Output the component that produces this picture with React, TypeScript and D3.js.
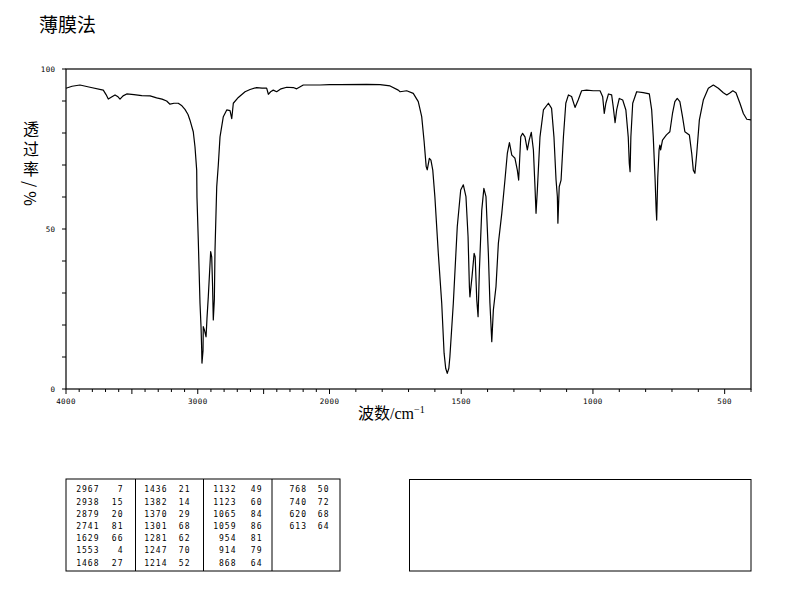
import React from "react";
import * as d3 from "d3";

// ---- Spectrum data (wavenumber cm^-1, transmittance %) ----
const wavenumbers = [
  4000, 3954, 3894, 3818, 3717, 3696, 3679, 3651, 3628, 3605, 3590, 3567, 3539, 3484, 3425, 3362, 3312, 3271, 3236, 3211,
  3180, 3148, 3120, 3097, 3074, 3059, 3034, 3021, 3008, 3006, 2996, 2983, 2975, 2970, 2968, 2960, 2958, 2949, 2937, 2930,
  2920, 2902, 2894, 2888, 2882, 2874, 2869, 2856, 2844, 2831, 2806, 2780, 2755, 2742, 2730, 2692, 2641, 2603, 2553, 2512,
  2477, 2464, 2444, 2427, 2401, 2368, 2325, 2275, 2249, 2199, 2072, 2000, 1960, 1859, 1808, 1770, 1739, 1732, 1707, 1682,
  1663, 1650, 1641, 1633, 1629, 1621, 1615, 1608, 1600, 1587, 1574, 1565, 1559, 1553, 1547, 1543, 1530, 1515, 1502, 1492,
  1482, 1474, 1469, 1467, 1459, 1451, 1447, 1441, 1436, 1431, 1422, 1414, 1406, 1397, 1391, 1384, 1378, 1368, 1359, 1346,
  1334, 1325, 1317, 1308, 1302, 1296, 1287, 1282, 1274, 1267, 1258, 1249, 1242, 1234, 1226, 1220, 1216, 1211, 1201, 1188,
  1169, 1157, 1148, 1140, 1135, 1133, 1128, 1121, 1112, 1103, 1093, 1081, 1068, 1056, 1043, 1024, 999, 973, 963, 957,
  951, 941, 929, 923, 916, 910, 900, 887, 875, 866, 862, 859, 856, 849, 834, 809, 786, 777, 771, 764,
  760, 758, 754, 749, 746, 743, 736, 721, 708, 698, 689, 680, 670, 660, 651, 634, 625, 619, 613, 606,
  596, 581, 562, 543, 524, 505, 492, 479, 469, 457, 442, 429, 416, 400,
];
const transmittance = [
  94.0, 94.6, 95.0, 94.3, 93.4, 92.0, 90.6, 91.3, 91.9, 91.3, 90.6, 91.6, 92.2, 92.0, 91.7, 91.6, 91.0, 90.6, 90.0, 89.0,
  89.3, 89.3, 88.5, 87.4, 85.8, 84.0, 80.4, 75.7, 68.4, 60.0, 46.6, 26.9, 19.4, 12.2, 8.1, 12.0, 19.5, 18.4, 16.3, 22.0,
  28.8, 42.9, 41.3, 33.0, 21.6, 28.0, 43.4, 63.2, 70.0, 78.8, 85.1, 87.2, 87.0, 84.5, 89.3, 91.1, 92.9, 93.6, 94.2, 94.0,
  94.0, 92.1, 93.0, 93.4, 92.9, 93.8, 94.3, 94.2, 93.8, 95.0, 95.0, 95.1, 95.1, 95.2, 95.1, 94.7, 93.4, 92.9, 93.2, 92.4,
  89.8, 85.1, 77.5, 69.5, 68.5, 72.1, 71.5, 68.4, 60.1, 42.4, 26.8, 11.2, 6.5, 4.9, 6.5, 10.1, 26.8, 50.7, 62.2, 63.8,
  60.1, 47.6, 32.0, 28.8, 35.1, 42.4, 41.3, 27.8, 22.6, 37.2, 55.9, 62.7, 60.1, 42.4, 26.8, 14.8, 24.7, 32.0, 45.5, 54.9,
  65.3, 73.6, 77.0, 73.1, 72.6, 72.1, 68.4, 65.3, 78.8, 79.9, 78.8, 74.7, 77.8, 80.2, 74.7, 63.2, 54.9, 62.2, 78.8, 87.2,
  89.3, 87.7, 78.8, 65.3, 60.1, 51.8, 63.2, 65.3, 78.8, 89.3, 91.9, 91.4, 88.0, 90.3, 93.2, 93.4, 93.2, 93.2, 91.3, 86.1,
  89.3, 92.2, 91.9, 88.2, 83.2, 87.2, 90.8, 90.3, 87.2, 78.8, 70.5, 67.9, 78.8, 89.3, 92.9, 92.6, 92.2, 87.2, 78.8, 65.3,
  55.9, 52.8, 66.0, 74.7, 76.2, 74.7, 77.8, 79.4, 80.4, 86.1, 89.8, 90.8, 89.8, 85.1, 80.4, 79.4, 73.6, 68.4, 67.4, 73.6,
  84.1, 90.3, 94.0, 95.0, 94.0, 92.6, 91.9, 92.6, 93.2, 92.6, 89.3, 86.1, 84.3, 84.1,
];

// ---- Axis ticks ----
const xTickLabels = [4000, 3000, 2000, 1500, 1000, 500];
const yTickLabels = [0, 50, 100];

// ---- Peak table ----
const peakWavenumbers = [
  2967, 2938, 2879, 2741, 1629, 1553, 1468,
  1436, 1382, 1370, 1301, 1281, 1247, 1214,
  1132, 1123, 1065, 1059, 954, 914, 868,
  768, 740, 620, 613,
];
const peakTransmittance = [
  7, 15, 20, 81, 66, 4, 27,
  21, 14, 29, 68, 62, 70, 52,
  49, 60, 84, 86, 81, 79, 64,
  50, 72, 68, 64,
];

const titleText = "薄膜法";
const yLabelText = "透过率/%";

export default function App() {
  const left = 66, right = 751, top = 69, bottom = 389;
  const x = d3.scaleLinear().domain([4000, 2000, 400]).range([left, 329.5, right]);
  const y = d3.scaleLinear().domain([0, 100]).range([bottom, top]);

  const pts: [number, number][] = wavenumbers.map((w, i) => [w, transmittance[i]]);
  const line = d3
    .line<[number, number]>()
    .x((d) => x(d[0]))
    .y((d) => y(d[1]))
    .curve(d3.curveLinear);

  const xMinor = d3.range(400, 4001, 100);
  const yMinor = d3.range(0, 101, 10);

  const mono = "'DejaVu Sans Mono', monospace";
  const cjk = "'Noto Sans CJK SC', sans-serif";

  // table layout
  const tableLeft = 66, tableTop = 479, tableRight = 340, tableBottom = 571;
  const colDividers = [135.5, 203.5, 272];
  const wnRight = [99.5, 167.5, 236.5, 307];
  const tRight = [123.5, 190.5, 262.5, 329.5];
  const rowsPerCol = 7;
  const rowBase = 492.3;
  const rowStep = 12.2;

  return (
    <svg
      width={794}
      height={595}
      style={{ position: "absolute", left: 0, top: 0, background: "#fff" }}
    >
      <rect x={0} y={0} width={794} height={595} fill="#fff" />
      {/* Title */}
      <text x={39} y={32} fontSize={19} fontFamily={cjk} fill="#000">
        {titleText}
      </text>

      {/* Frame */}
      <rect x={left} y={top} width={right - left} height={bottom - top} fill="none" stroke="#000" strokeWidth={1.2} />

      {/* X ticks */}
      {xMinor.map((v) => (
        <line
          key={"xt" + v}
          x1={x(v)}
          x2={x(v)}
          y1={bottom}
          y2={bottom + (v % 500 === 0 ? 5 : 3)}
          stroke="#000"
          strokeWidth={1}
        />
      ))}
      {xTickLabels.map((v) => (
        <text
          key={"xl" + v}
          x={x(v)}
          y={403.5}
          textAnchor="middle"
          fontSize={7.5}
          letterSpacing={0.4}
          fontFamily={mono}
          fill="#000"
        >
          {v}
        </text>
      ))}

      {/* Y ticks */}
      {yMinor.map((v) => (
        <line key={"yt" + v} x1={left - 4} x2={left} y1={y(v)} y2={y(v)} stroke="#000" strokeWidth={1} />
      ))}
      {yTickLabels.map((v) => (
        <text
          key={"yl" + v}
          x={55.5}
          y={y(v) + 2.5}
          textAnchor="end"
          fontSize={7.5}
          letterSpacing={0.4}
          fontFamily={mono}
          fill="#000"
        >
          {v}
        </text>
      ))}

      {/* Y label (vertical) */}
      <text
        x={31}
        y={121}
        fontSize={16}
        letterSpacing={4}
        fontFamily={cjk}
        fill="#000"
        style={{ writingMode: "vertical-rl" }}
      >
        {yLabelText}
      </text>

      {/* X label */}
      <text x={358} y={419} fontSize={16} fill="#000">
        <tspan fontFamily={cjk}>波数</tspan>
        <tspan fontFamily="'Liberation Serif', serif">/cm</tspan>
        <tspan fontFamily="'Liberation Serif', serif" fontSize={10} dy={-6}>
          −1
        </tspan>
      </text>

      {/* Spectrum */}
      <path d={line(pts) || ""} fill="none" stroke="#000" strokeWidth={1.2} strokeLinejoin="round" />

      {/* Peak table */}
      <rect
        x={tableLeft}
        y={tableTop}
        width={tableRight - tableLeft}
        height={tableBottom - tableTop}
        fill="none"
        stroke="#000"
        strokeWidth={1}
      />
      {colDividers.map((cx, i) => (
        <line key={"cd" + i} x1={cx} x2={cx} y1={tableTop} y2={tableBottom} stroke="#000" strokeWidth={1} />
      ))}
      {peakWavenumbers.map((w, i) => {
        const col = Math.floor(i / rowsPerCol);
        const row = i % rowsPerCol;
        const yy = rowBase + row * rowStep;
        return (
          <g key={"pk" + i}>
            <text x={wnRight[col]} y={yy} textAnchor="end" fontSize={8} letterSpacing={1} fontFamily={mono} fill="#000">
              {w}
            </text>
            <text x={tRight[col]} y={yy} textAnchor="end" fontSize={8} letterSpacing={1} fontFamily={mono} fill="#000">
              {peakTransmittance[i]}
            </text>
          </g>
        );
      })}

      {/* Right empty box */}
      <rect x={409.5} y={479.5} width={341.5} height={91.5} fill="none" stroke="#000" strokeWidth={1} />
    </svg>
  );
}
